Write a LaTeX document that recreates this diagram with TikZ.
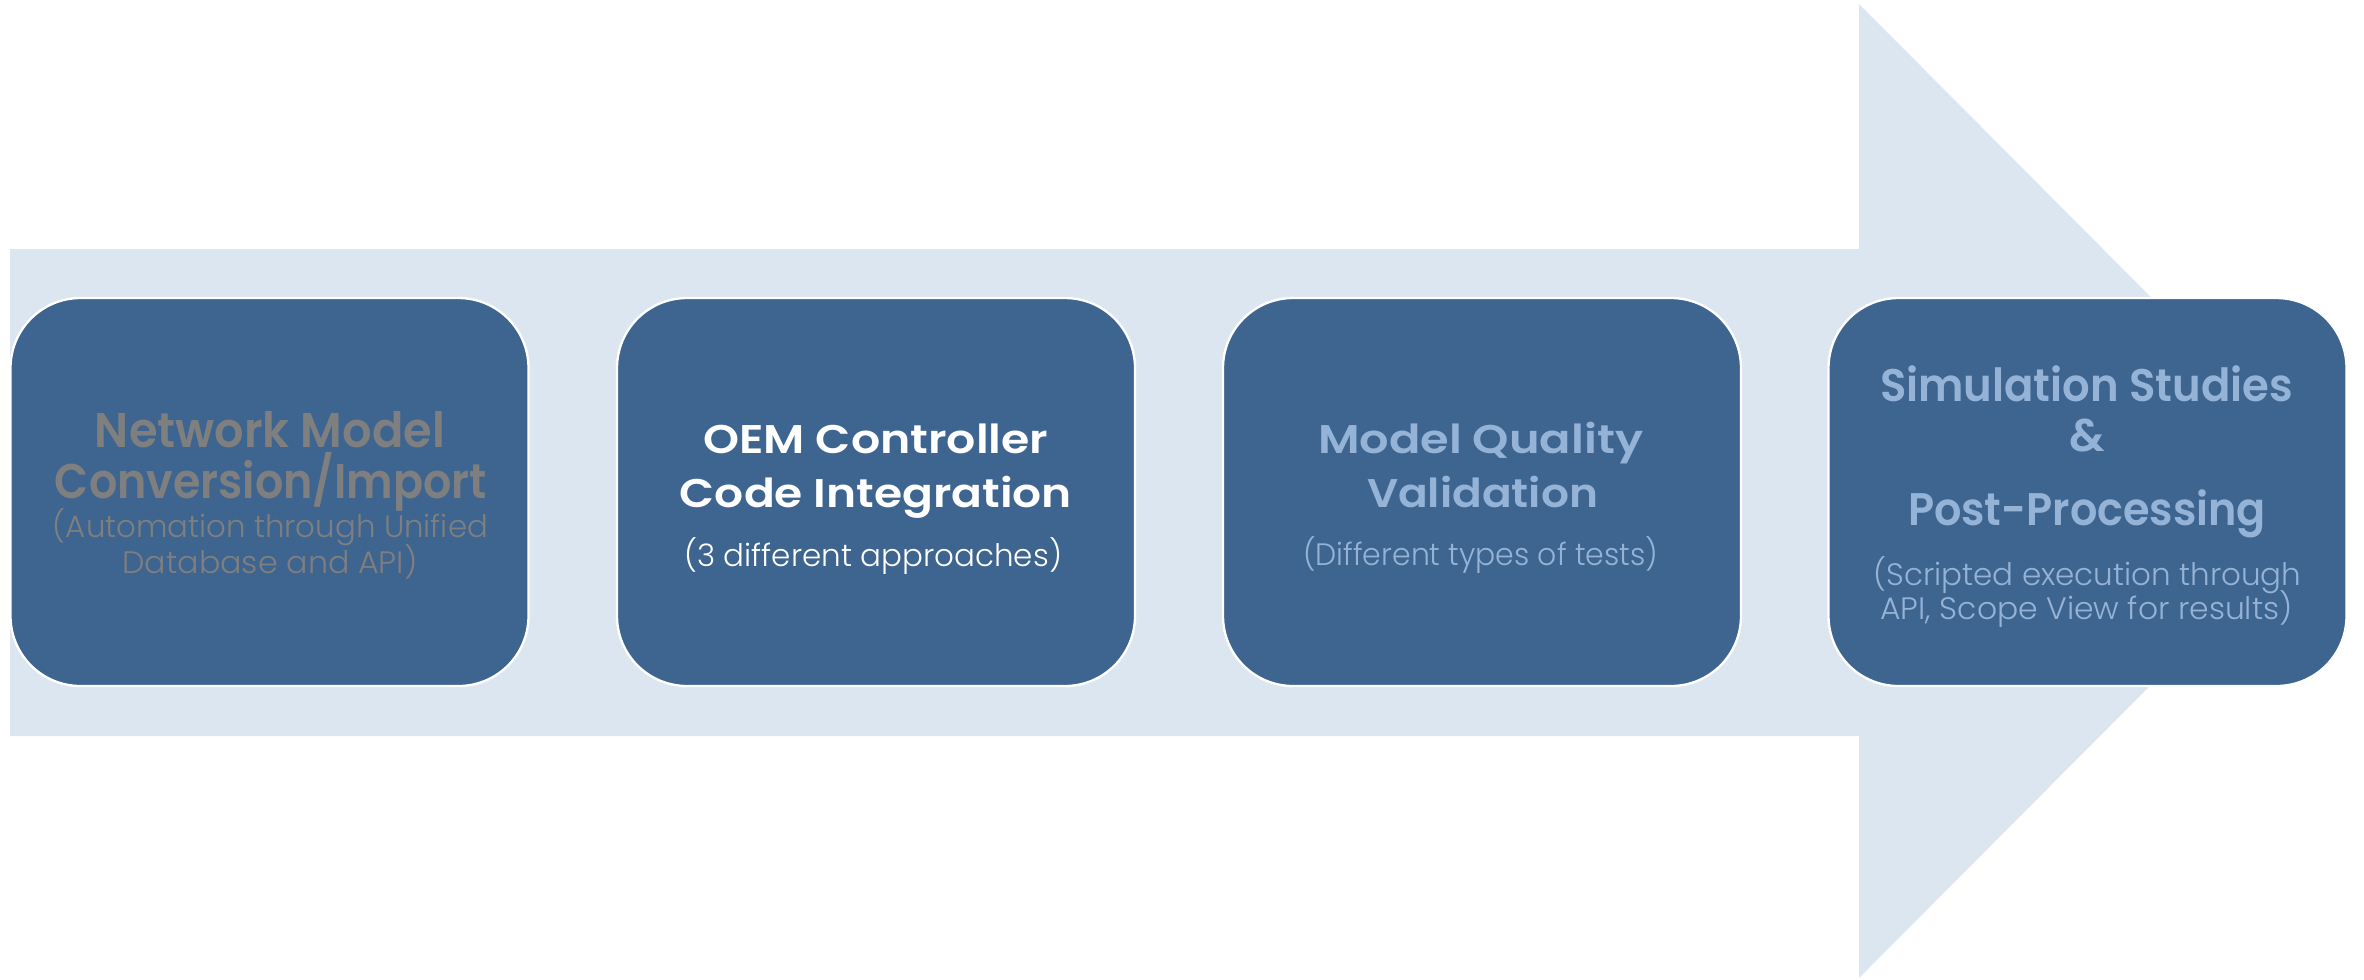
\documentclass[tikz,border=0pt]{standalone}
\usepackage{graphicx}
\usepackage{fontspec}
\setmainfont{Poppins}[UprightFont={Poppins Light}]
\definecolor{arrowfill}{HTML}{DCE6F1}
\definecolor{boxblue}{HTML}{3E6590}
\definecolor{paleblue}{HTML}{95B3D7}
\definecolor{graytxt}{HTML}{7F7F7F}
% set a line of text to a given width, keeping its height
\newcommand{\fitw}[2]{\resizebox{#1}{\height}{#2}}
\begin{document}
\begin{tikzpicture}[x=0.3pt,y=-0.3pt,
  stepbox/.style={draw=white, line width=0.7pt, fill=boxblue, rounded corners=21pt,
    minimum width=155.4pt, minimum height=116.4pt, inner sep=0pt},
  txt/.style={anchor=base, inner sep=0pt},
  headA/.style={txt, font=\bfseries\fontsize{14.6}{14.6}\selectfont},
  headB/.style={txt, font=\bfseries\fontsize{12}{12}\selectfont},
  headC/.style={txt, font=\bfseries\fontsize{13.7}{13.7}\selectfont},
  subline/.style={txt, font=\fontsize{9.3}{9.3}\selectfont}]
\useasboundingbox (0,0) rectangle (2364,979);
% big process arrow in the background
\fill[arrowfill] (10,249) -- (1859,249) -- (1859,4) -- (2344,491) -- (1859,978)
  -- (1859,736) -- (10,736) -- cycle;
% four steps
\node[stepbox] (s1) at (269.5,492) {};
\node[stepbox] (s2) at (876,492) {};
\node[stepbox] (s3) at (1482,492) {};
\node[stepbox] (s4) at (2087.5,492) {};
% step 1
\node[headA, text=graytxt] (s1a) at (270,447) {\fitw{105pt}{Network Model}};
\node[headA, text=graytxt] (s1b) at (271,498) {\fitw{129.6pt}{Conversion/Import}};
\node[subline, text=graytxt] (s1c) at (270.5,537) {\fitw{130.5pt}{(Automation through Unified}};
\node[subline, text=graytxt] (s1d) at (270,573) {\fitw{88.5pt}{Database and API)}};
% step 2
\node[headB, text=white] (s2a) at (876,453) {\fitw{103.5pt}{OEM Controller}};
\node[headB, text=white] (s2b) at (876,507) {\fitw{117.6pt}{Code Integration}};
\node[subline, text=white] (s2c) at (873,566) {\fitw{113.4pt}{(3 different approaches)}};
% step 3
\node[headB, text=paleblue] (s3a) at (1480.5,453) {\fitw{97.5pt}{Model Quality}};
\node[headB, text=paleblue] (s3b) at (1482.5,507) {\fitw{69.3pt}{Validation}};
\node[subline, text=paleblue] (s3c) at (1480.5,565) {\fitw{106.5pt}{(Different types of tests)}};
% step 4
\node[headC, text=paleblue] (s4a) at (2086.5,401) {\fitw{123.9pt}{Simulation Studies}};
\node[headC, text=paleblue] (s4b) at (2087.5,451) {\&};
\node[headC, text=paleblue] (s4c) at (2087,525) {\fitw{107.4pt}{Post-Processing}};
\node[subline, text=paleblue] (s4d) at (2087.5,585) {\fitw{128.4pt}{(Scripted execution through}};
\node[subline, text=paleblue] (s4e) at (2086.5,619) {\fitw{123.6pt}{API, Scope View for results)}};
\end{tikzpicture}
\end{document}
